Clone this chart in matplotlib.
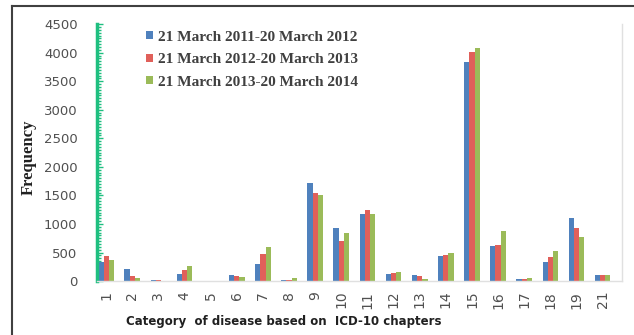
import matplotlib
matplotlib.use("Agg")
import matplotlib.pyplot as plt
import numpy as np
from matplotlib.lines import Line2D
from matplotlib.ticker import MultipleLocator

categories = ["1", "2", "3", "4", "5", "6", "7", "8", "9", "10", "11", "12",
              "13", "14", "15", "16", "17", "18", "19", "21"]
series_names = ["21 March 2011-20 March 2012",
                "21 March 2012-20 March 2013",
                "21 March 2013-20 March 2014"]
y2012 = [333, 217, 20, 130, 0, 100, 304, 15, 1716, 928, 1168, 130, 100, 440, 3830, 608, 40, 333, 1103, 112]
y2013 = [432, 88, 10, 200, 0, 80, 473, 20, 1535, 695, 1250, 142, 83, 452, 4020, 637, 40, 420, 928, 112]
y2014 = [375, 58, 5, 257, 0, 70, 596, 58, 1513, 840, 1180, 160, 42, 500, 4090, 870, 60, 525, 770, 100]
yticks = [0, 500, 1000, 1500, 2000, 2500, 3000, 3500, 4000, 4500]

colors = ["#4f81bd", "#e0605a", "#9bbb59"]

fig = plt.figure(figsize=(6.34, 3.35), dpi=100)
ax = fig.add_axes([0.153, 0.161, 0.828, 0.767])

x = np.arange(len(categories))
w = 0.2
for i, (vals, c, name) in enumerate(zip([y2012, y2013, y2014], colors, series_names)):
    ax.bar(x + (i - 1) * w, vals, width=w, color=c, label=name, zorder=2)

ax.set_xlim(-0.35, 19.74)
ax.set_ylim(0, 4500)
ax.set_yticks(yticks)
ax.set_yticklabels([str(t) for t in yticks], fontsize=9.5, color="#505050")
ax.yaxis.set_minor_locator(MultipleLocator(50))
ax.tick_params(axis="y", which="major", direction="in", length=4, width=1, color="#1fbf80", pad=14)
ax.tick_params(axis="y", which="minor", direction="in", length=3, width=1, color="#1fbf80")
ax.set_xticks(x)
ax.set_xticklabels(categories, rotation=90, fontsize=10, color="#505050")
ax.tick_params(axis="x", length=0, pad=7)

ax.spines["left"].set_color("#1fbf80")
ax.spines["left"].set_linewidth(2.5)
for s in ["top", "right", "bottom"]:
    ax.spines[s].set_color("#e0e0e0")
    ax.spines[s].set_linewidth(1)
ax.spines["top"].set_visible(False)

fig.text(29/634, 1 - 157/335, "Frequency", rotation=90, ha="center", va="center",
         fontsize=12, fontweight="bold", family="Liberation Serif", color="#202020")
fig.text(284/634, 1 - 322/335, "Category  of disease based on  ICD-10 chapters",
         ha="center", va="center", fontsize=8.5, fontweight="bold", color="#202020")

leg = ax.legend(loc="upper left", bbox_to_anchor=(0.068, 1.028), frameon=False,
                prop={"family": "Liberation Serif", "weight": "bold", "size": 11},
                handlelength=0.45, handleheight=0.45, handletextpad=0.3, labelspacing=0.62)
for t in leg.get_texts():
    t.set_color("#404040")

# outer frame lines
fig.add_artist(Line2D([12/634, 1.0], [1 - 6/335, 1 - 6/335], transform=fig.transFigure, color="#404040", lw=1.5))
fig.add_artist(Line2D([12/634, 12/634], [0, 1 - 6/335], transform=fig.transFigure, color="#404040", lw=1.5))

fig.savefig("out.png", dpi=100)
